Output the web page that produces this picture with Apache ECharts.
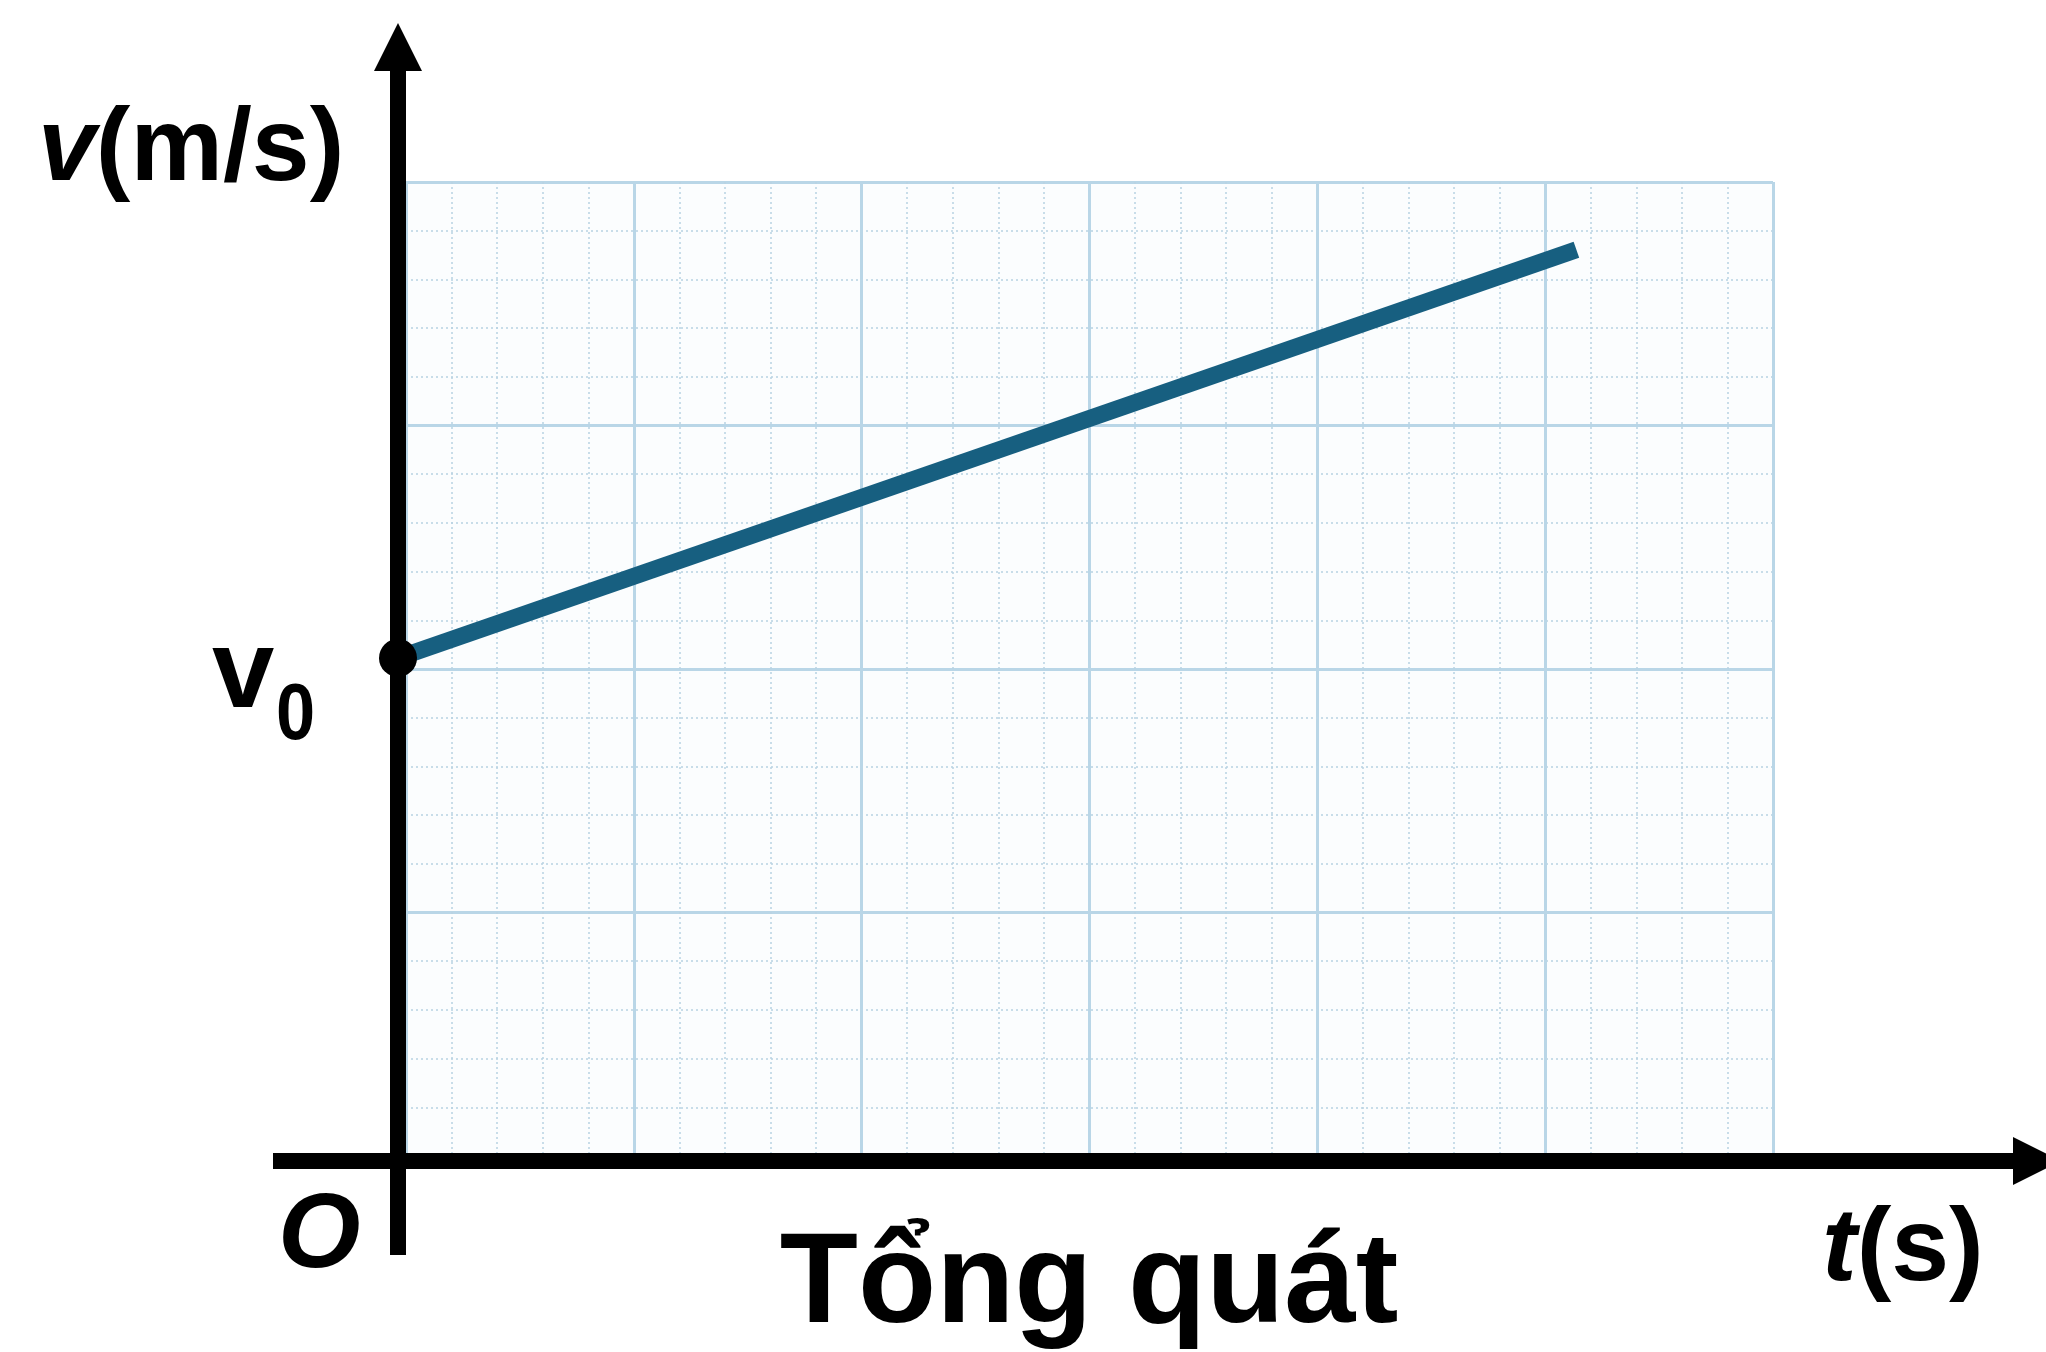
<!DOCTYPE html>
<html>
<head>
<meta charset="utf-8">
<title>Tổng quát</title>
<script src="https://cdn.jsdelivr.net/npm/echarts@6/dist/echarts.min.js"></script>
<style>
  html, body { margin: 0; padding: 0; background: #fff; }
  #main { width: 2046px; height: 1352px; }
</style>
</head>
<body>
<div id="main"></div>
<script>
// du lieu do thi v-t (don vi: o nho cua giay ke)
const tValues = [0, 25.84]
const vValues = [10.33, 18.71]
const v0Point = [0, 10.33]

// luoi giay ke: 6 o lon ngang, 4 o lon doc, moi o lon 5 o nho
const gridCols = 30
const gridRows = 20
const majorStep = 5

// khung truc toa do (co mui ten) dung cung ti le voi luoi
const tAxisRange = [-2.741, 35.94]
const vAxisRange = [-1.930, 22.874]

const FONT = '"Liberation Sans", Arial, Helvetica, sans-serif'
const lineData = tValues.map((t, i) => [t, vValues[i]])

const chart = echarts.init(document.getElementById('main'))
chart.setOption({
  animation: false,
  backgroundColor: '#ffffff',
  grid: [
    // nen giay ke
    { left: 406, right: 273, top: 182, bottom: 196, show: true, backgroundColor: '#fbfdfe', borderWidth: 0 },
    // truc O-t, O-v
    { left: 273, right: 9, top: 47, bottom: 97 }
  ],
  xAxis: [
    {
      gridIndex: 0,
      type: 'value',
      min: 0,
      max: gridCols,
      interval: majorStep,
      axisLine: { show: false },
      axisTick: { show: false },
      axisLabel: { show: false },
      splitLine: { show: true, lineStyle: { color: '#b9d6e7', width: 3 } },
      minorTick: { show: false, splitNumber: 5 },
      minorSplitLine: { show: true, lineStyle: { color: '#b8d2e2', width: 1.5, type: [2, 3] } }
    },
    {
      gridIndex: 1,
      type: 'value',
      min: tAxisRange[0],
      max: tAxisRange[1],
      z: 10,
      axisLine: {
        show: true,
        onZero: true,
        symbol: ['none', 'triangle'],
        symbolSize: [48, 48],
        lineStyle: { color: '#000', width: 16, cap: 'butt' }
      },
      axisTick: { show: false },
      axisLabel: { show: false },
      splitLine: { show: false }
    }
  ],
  yAxis: [
    {
      gridIndex: 0,
      type: 'value',
      min: 0,
      max: gridRows,
      interval: majorStep,
      axisLine: { show: false },
      axisTick: { show: false },
      axisLabel: { show: false },
      splitLine: { show: true, lineStyle: { color: '#b9d6e7', width: 3 } },
      minorTick: { show: false, splitNumber: 5 },
      minorSplitLine: { show: true, lineStyle: { color: '#b8d2e2', width: 1.5, type: [2, 3] } }
    },
    {
      gridIndex: 1,
      type: 'value',
      min: vAxisRange[0],
      max: vAxisRange[1],
      z: 10,
      axisLine: {
        show: true,
        onZero: true,
        symbol: ['none', 'triangle'],
        symbolSize: [48, 48],
        lineStyle: { color: '#000', width: 16, cap: 'butt' }
      },
      axisTick: { show: false },
      axisLabel: { show: false },
      splitLine: { show: false }
    }
  ],
  series: [
    {
      type: 'line',
      xAxisIndex: 1,
      yAxisIndex: 1,
      data: lineData,
      showSymbol: false,
      silent: true,
      z: 20,
      lineStyle: { color: '#175f80', width: 17, cap: 'butt' }
    },
    {
      type: 'scatter',
      xAxisIndex: 1,
      yAxisIndex: 1,
      data: [v0Point],
      symbol: 'circle',
      symbolSize: 38,
      silent: true,
      z: 30,
      itemStyle: { color: '#000', opacity: 1 }
    }
  ],
  graphic: [
    {
      type: 'text', x: 38, y: 151, z: 50,
      style: {
        text: '{a|v}{b|(m/s)}',
        textVerticalAlign: 'middle',
        rich: {
          a: { fontSize: 104, fontWeight: 'bold', fontStyle: 'italic', fontFamily: FONT, fill: '#000' },
          b: { fontSize: 104, fontWeight: 'bold', fontFamily: FONT, fill: '#000' }
        }
      }
    },
    {
      type: 'text', x: 212, y: 676, z: 50,
      style: { text: 'v', font: 'bold 112px ' + FONT, fill: '#000', textVerticalAlign: 'middle' }
    },
    {
      type: 'text', x: 276, y: 717, z: 50, scaleX: 0.88,
      style: { text: '0', font: 'bold 80px ' + FONT, fill: '#000', textVerticalAlign: 'middle' }
    },
    {
      type: 'text', x: 278, y: 1238, z: 50,
      style: { text: 'O', font: 'italic bold 106px ' + FONT, fill: '#000', textVerticalAlign: 'middle' }
    },
    {
      type: 'text', x: 1822, y: 1251, z: 50,
      style: {
        text: '{a|t}{b|(s)}',
        textVerticalAlign: 'middle',
        rich: {
          a: { fontSize: 104, fontWeight: 'bold', fontStyle: 'italic', fontFamily: FONT, fill: '#000' },
          b: { fontSize: 104, fontWeight: 'bold', fontFamily: FONT, fill: '#000' }
        }
      }
    },
    {
      type: 'text', x: 1089, y: 1287, z: 50,
      style: { text: 'Tổng quát', font: 'bold 128px ' + FONT, fill: '#000', textAlign: 'center', textVerticalAlign: 'middle' }
    }
  ]
})
</script>
</body>
</html>
